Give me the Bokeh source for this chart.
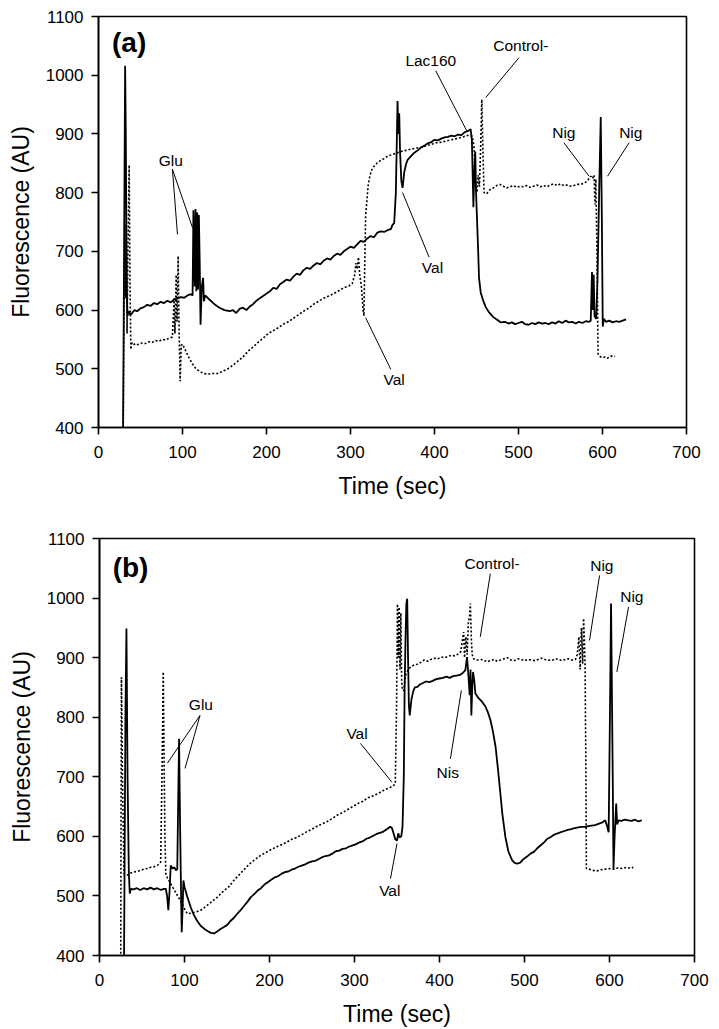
from bokeh.plotting import figure
from bokeh.models import ColumnDataSource, SingleIntervalTicker
from bokeh.core.properties import value
from bokeh.embed import file_html
from bokeh.resources import INLINE

FONT = "Liberation Sans"

# ---------------- Panel (a) data ----------------
a_solid_t = [29.3, 31.7, 32.5, 33.5, 34.5, 36, 38, 40, 43, 46, 50, 54, 58, 62, 66, 70, 74, 78, 82, 86, 90, 94, 98, 102, 106, 110, 112,
             113, 114.5, 115.5, 116.5, 117.5, 118.5, 119.5, 120.5, 121.5, 123, 124.5, 125.5, 127, 132, 138, 144, 150, 156, 160, 164,
             168, 172, 176, 180, 184, 188, 192, 196, 200, 204, 208, 212, 216, 220, 224, 228, 232, 236, 240, 244, 248, 252, 256, 260,
             264, 268, 272, 276, 280, 284, 288, 292, 296, 300, 304, 308, 312, 316, 320, 324, 328, 332, 336, 340, 344, 348, 350, 352,
             354, 356, 357, 358, 359, 360.5, 362, 364, 366, 368, 372, 376, 380, 384, 388, 392, 396, 400, 404, 408, 412, 416, 420, 424,
             428, 432, 436, 440, 443, 444.5, 446.3, 447.5, 448.5, 449.5, 450.5, 452, 453, 455, 458, 461, 465, 470, 475, 479, 484, 488,
             492, 496, 500, 504, 508, 512, 516, 520, 524, 528, 532, 536, 540, 544, 548, 552, 556, 560, 564, 568, 572, 576, 580, 584,
             586, 587.5, 588.5, 589.5, 590.5, 592.5, 594, 596, 597.9, 599.2, 600.3, 601.5, 604, 608, 612, 616, 620, 624, 628]
a_solid_v = [400, 1016, 900, 640, 590, 598, 592, 595, 600, 598, 603, 605, 609, 607, 612, 610, 614, 612, 616, 613, 618, 620, 622, 621, 625, 627, 625,
             770, 640, 772, 632, 766, 635, 762, 680, 575, 640, 655, 615, 625, 618, 610, 604, 600, 598, 600, 595,
             602, 604, 600, 606, 610, 616, 620, 624, 628, 632, 638, 636, 644, 648, 652, 650, 657, 662, 660, 668, 672, 670, 676, 680,
             678, 684, 688, 686, 692, 696, 694, 700, 704, 708, 706, 712, 718, 716, 722, 726, 724, 732, 734, 733, 736, 738, 745, 748,
             800, 956, 900, 935, 870, 820, 808, 835, 848, 856, 862, 868, 872, 877, 880, 884, 886, 890, 889, 892, 894, 895, 897, 896,
             899, 898, 903, 905, 908, 890, 775, 840, 870, 800, 760, 700, 655, 630, 616, 605, 596, 588, 583, 579, 580, 577,
             579, 576, 578, 580, 576, 575, 578, 576, 579, 577, 578, 576, 579, 577, 581, 578, 582, 579, 580, 577, 580, 578, 581, 580,
             582, 665, 600, 660, 590, 585, 650, 800, 929, 760, 572, 585, 580, 582, 579, 581, 580, 582, 584]

a_dot_t = [29.3, 30.5, 31.2, 32, 33, 34, 35, 36.5, 37.5, 38.5, 40, 44, 48, 52, 56, 60, 64, 68, 72, 76, 80, 84, 88, 90, 91, 92.5, 93.5,
           94.8, 96, 97.2, 98.5, 100, 104, 108, 112, 116, 120, 125, 130, 136, 142, 148, 154, 160, 166, 172, 178, 184, 190, 196, 202,
           208, 214, 220, 226, 232, 238, 244, 250, 256, 262, 268, 274, 280, 286, 292, 298, 302, 305, 306.5, 308, 309.5, 311, 313, 315,
           316, 317, 318, 319.5, 321, 323, 325, 328, 332, 336, 340, 344, 348, 352, 356, 360, 366, 372, 378, 384, 390, 396, 402, 408,
           414, 420, 426, 432, 438, 442, 445, 447, 449, 450.5, 452, 453.5, 455, 456.3, 457.5, 459, 462, 466, 470, 474, 478, 482, 486,
           490, 494, 498, 502, 506, 510, 514, 518, 522, 526, 530, 534, 538, 542, 546, 550, 554, 558, 562, 566, 570, 574, 578, 582,
           586, 588, 590, 591, 592, 593, 594, 594.7, 597, 600, 603, 606, 609, 612, 615]
a_dot_v = [400, 600, 745, 620, 745, 560, 700, 847, 650, 533, 545, 540, 542, 544, 543, 546, 545, 548, 547, 550, 549, 552, 554, 620, 560, 660, 580,
           692, 560, 479, 540, 542, 530, 518, 508, 500, 496, 492, 491, 492, 492, 496, 500, 506, 513, 520, 530, 537, 545, 552, 560,
           565, 570, 576, 580, 586, 592, 598, 603, 610, 615, 620, 624, 628, 633, 638, 641, 645, 660, 680, 670, 690, 660, 640, 600,
           590, 680, 760, 786, 812, 828, 838, 845, 851, 855, 858, 862, 864, 866, 868, 870, 872, 874, 876, 877, 880, 882, 885, 886,
           888, 890, 892, 894, 897, 898, 896, 880, 810, 800, 830, 810, 880, 959, 880, 800, 798, 805, 808, 812, 814, 811, 808,
           810, 812, 809, 811, 810, 812, 809, 811, 813, 810, 812, 810, 813, 815, 812, 815, 812, 813, 811, 812, 814, 814, 816, 820,
           828, 824, 830, 780, 823, 740, 620, 525, 521, 519, 520, 518, 521, 522, 521]

a_ann_text = ["Glu", "Val", "Val", "Lac160", "Control-", "Nig", "Nig"]
a_ann_x = [86, 352, 397.6, 395.6, 502.7, 554, 633.7]
a_ann_y = [855, 482, 672, 1025, 1050, 902.5, 902.5]
a_lead_x0 = [88, 88, 348, 393.6, 401.5, 500.7, 554, 631.7]
a_lead_y0 = [840, 840, 499, 690, 1007.5, 1030, 885, 885]
a_lead_x1 = [94, 112, 318, 362, 438.5, 461, 584, 606]
a_lead_y1 = [729, 740, 587, 800, 905, 962, 828, 828]

# ---------------- Panel (b) data ----------------
b_solid_t = [28.9, 30.5, 31.7, 33, 34.5, 35.6, 37, 40, 44, 48, 52, 56, 60, 64, 68, 72, 76, 78, 79.5, 81, 82.5, 83.8, 86, 88, 90, 91.5,
             92.5, 93.6, 94.8, 96, 96.7, 97.8, 98.7, 100, 103, 107.3, 111, 115, 119, 123, 127, 131, 134.7, 138, 142, 146.4, 150, 154,
             158, 162, 166, 170, 174, 178, 182, 186, 190, 194, 198, 202, 206, 210, 214, 218, 222, 226, 230, 234, 238, 242, 246, 250,
             254, 258, 262, 266, 270, 274, 278, 282, 286, 290, 294, 298, 302, 306, 310, 314, 318, 322, 326, 330, 334, 338, 342, 344,
             346, 348, 350, 351.5, 353, 355, 356.5, 358, 359, 360, 361, 362, 363, 364, 365, 367, 369, 371, 374, 377, 380, 384, 388,
             392, 396, 400, 404, 408, 412, 416, 420, 424, 428, 430.4, 432.4, 434, 435.5, 436.5, 437.5, 438.5, 439.5, 441, 442.2, 446,
             450, 454, 457, 460, 463, 466, 469, 471.6, 474, 477.5, 481, 485.3, 488, 491.2, 495, 499, 503, 507, 511, 515, 519, 523,
             527, 531, 535, 539, 543, 547, 551, 555, 559, 563, 567, 571, 575, 579, 583, 587, 591, 595, 597, 599, 600.5, 601.8, 602.8,
             603.8, 604.7, 606, 607.9, 609, 610.6, 614, 618, 622, 626, 630, 634, 638]
b_solid_v = [400, 800, 949, 700, 540, 504, 512, 511, 513, 510, 513, 511, 514, 511, 513, 510, 512, 512, 500, 476, 510, 551, 546, 548, 543, 545,
             650, 764, 620, 500, 439, 480, 526, 515, 500, 481, 468, 458, 450, 445, 441, 438, 437, 440, 444, 448, 451, 458,
             463, 470, 476, 483, 490, 498, 503, 509, 513, 519, 523, 527, 531, 533, 537, 540, 541, 544, 546, 549, 551, 553, 556, 558,
             559, 562, 565, 567, 568, 571, 575, 576, 579, 580, 583, 585, 587, 590, 592, 596, 598, 601, 604, 606, 608, 612, 616, 614,
             605, 595, 593, 605, 598, 600, 616, 700, 850, 930, 990, 999, 900, 820, 803, 830, 843, 850, 851, 855, 857, 860, 859,
             861, 864, 865, 866, 868, 866, 869, 870, 871, 875, 879, 901, 870, 837, 880, 803, 850, 876, 860, 840, 832,
             826, 818, 808, 795, 775, 750, 710, 672, 637, 599, 575, 560, 556, 554, 556, 562, 566, 571, 574, 580, 585, 590,
             596, 599, 603, 605, 607, 609, 611, 612, 614, 615, 616, 616, 617, 618, 619, 621, 623, 627, 618, 607, 800, 991, 850,
             700, 546, 600, 655, 620, 627, 626, 628, 627, 626, 628, 625, 627]

b_dot_t = [25, 25.8, 27, 28.9, 32.9, 36, 40, 44, 48.5, 52, 56, 60, 64, 68, 72, 73.5, 75, 76, 77, 78, 80, 84, 88, 92, 96, 100, 103.4,
           108, 113, 119, 125, 131, 138.7, 145, 152, 158, 164, 170, 176, 182, 189.5, 196, 202, 208, 214, 220, 226, 232, 238, 244,
           250, 256, 262, 268, 274, 280, 286, 292, 298, 304, 310, 316, 322, 328, 334, 340, 345, 348, 349.5, 350.5, 351.5, 352.5,
           353.5, 354.5, 355.5, 356.5, 358, 360, 363, 366, 370, 374, 378, 382, 386, 390, 394, 398, 402, 406, 410, 414, 418, 422,
           425, 427, 428.4, 429.5, 431, 432.5, 434, 435.4, 436.3, 437.5, 438.5, 440, 444, 448, 452, 456, 460, 464, 468, 472, 476,
           480, 484, 488, 492, 496, 500, 504, 508, 512, 516, 520, 524, 528, 532, 536, 540, 544, 548, 552, 556, 560, 562, 564, 565.5,
           567, 568.5, 569.5, 570.5, 571.3, 572.3, 572.8, 576, 580, 585, 590, 595, 600, 604.7, 610, 615, 620, 625, 628]
b_dot_v = [403, 867, 700, 537, 535, 538, 540, 541, 543, 545, 546, 548, 549, 551, 557, 700, 876, 720, 600, 537, 530, 520, 510, 500, 490, 478, 470,
           471, 473, 476, 482, 489, 498, 507, 515, 526, 535, 544, 553, 560, 568, 573, 578, 582, 586, 590, 595, 598, 603, 608,
           612, 617, 621, 625, 630, 636, 640, 645, 650, 655, 659, 665, 668, 672, 677, 681, 684, 688, 820, 990, 900, 985,
           880, 975, 860, 845, 845, 870, 880, 884, 888, 889, 892, 896, 894, 897, 899, 898, 901, 900, 902, 904, 903, 906,
           910, 930, 943, 900, 935, 905, 960, 970, 991, 930, 905, 898, 896, 897, 896, 893, 895, 897, 894, 896, 898,
           900, 896, 895, 898, 897, 895, 897, 896, 895, 897, 899, 897, 896, 895, 898, 897, 895, 897, 898, 896, 897, 905, 935, 880,
           950, 890, 966, 930, 880, 700, 546, 545, 543, 542, 544, 545, 546, 545, 547, 546, 548, 546, 548]

b_ann_text = ["Glu", "Val", "Val", "Nis", "Control-", "Nig", "Nig"]
b_ann_x = [119.3, 303, 341.5, 409.7, 461.8, 591, 626.3]
b_ann_y = [821, 772, 509, 708, 1058, 1054, 1002]
b_lead_x0 = [118.2, 118.2, 307, 342.3, 412.8, 459.8, 588.3, 622.4]
b_lead_y0 = [803, 803, 756, 529, 730, 1041, 1038, 985]
b_lead_x1 = [79.9, 100.6, 344, 350, 425.7, 448, 576.5, 608.7]
b_lead_y1 = [723, 714, 691, 588, 845, 935, 929, 876]

x_ticks_interval = 100
x_label = "Time (sec)"
y_label = "Fluorescence (AU)"


def make_panel(tag, width, height, mbl, mbr, mbt, mbb, st, sv, dt, dv, ann_text, ann_x, ann_y, lx0, ly0, lx1, ly1, tag_y):
    p = figure(width=width, height=height, x_range=(0, 700), y_range=(400, 1100),
               output_backend="svg", toolbar_location=None,
               min_border_left=mbl, min_border_right=mbr, min_border_top=mbt, min_border_bottom=mbb)
    p.grid.visible = False
    p.outline_line_color = "black"
    p.outline_line_width = 1.6
    p.background_fill_color = "white"
    p.border_fill_color = "white"
    for ax in (p.xaxis[0], p.yaxis[0]):
        ax.ticker = SingleIntervalTicker(interval=x_ticks_interval, num_minor_ticks=0)
        ax.axis_line_width = 1.6
        ax.major_tick_line_width = 1.6
        ax.major_tick_out = 7
        ax.major_tick_in = 0
        ax.minor_tick_line_color = None
        ax.major_label_text_font = FONT
        ax.major_label_text_font_size = "17px"
        ax.major_label_text_color = "black"
        ax.axis_label_text_font = FONT
        ax.axis_label_text_font_size = "23px"
        ax.axis_label_text_font_style = "normal"
        ax.axis_label_text_color = "black"
    p.xaxis.axis_label = x_label
    p.yaxis.axis_label = y_label
    p.xaxis.major_label_standoff = 11
    p.yaxis.major_label_standoff = 8
    p.xaxis.axis_label_standoff = 12
    p.yaxis.axis_label_standoff = 9

    p.line(dt, dv, line_color="black", line_width=1.6, line_dash="2 2")
    p.line(st, sv, line_color="black", line_width=1.8)

    seg = ColumnDataSource(dict(x0=lx0, y0=ly0, x1=lx1, y1=ly1))
    p.segment(x0="x0", y0="y0", x1="x1", y1="y1", source=seg, line_color="black", line_width=1)
    src = ColumnDataSource(dict(x=ann_x, y=ann_y, t=ann_text))
    p.text(x="x", y="y", text="t", source=src, text_font=value(FONT), text_font_size="15.5px",
           text_align="center", text_baseline="middle", text_color="black")
    p.text(x=[36.5], y=[tag_y], text=[tag], text_font=value(FONT), text_font_size="28px",
           text_font_style="bold", text_align="center", text_baseline="middle", text_color="black")
    return p


pa = make_panel("(a)", 706, 530, 98, 20, 16, 103, a_solid_t, a_solid_v, a_dot_t, a_dot_v,
                a_ann_text, a_ann_x, a_ann_y, a_lead_x0, a_lead_y0, a_lead_x1, a_lead_y1, 1056)
pb = make_panel("(b)", 712, 499, 99, 18, 8, 70, b_solid_t, b_solid_v, b_dot_t, b_dot_v,
                b_ann_text, b_ann_x, b_ann_y, b_lead_x0, b_lead_y0, b_lead_x1, b_lead_y1, 1052)

open("out.html", "w").write(file_html([pa, pb], INLINE))
